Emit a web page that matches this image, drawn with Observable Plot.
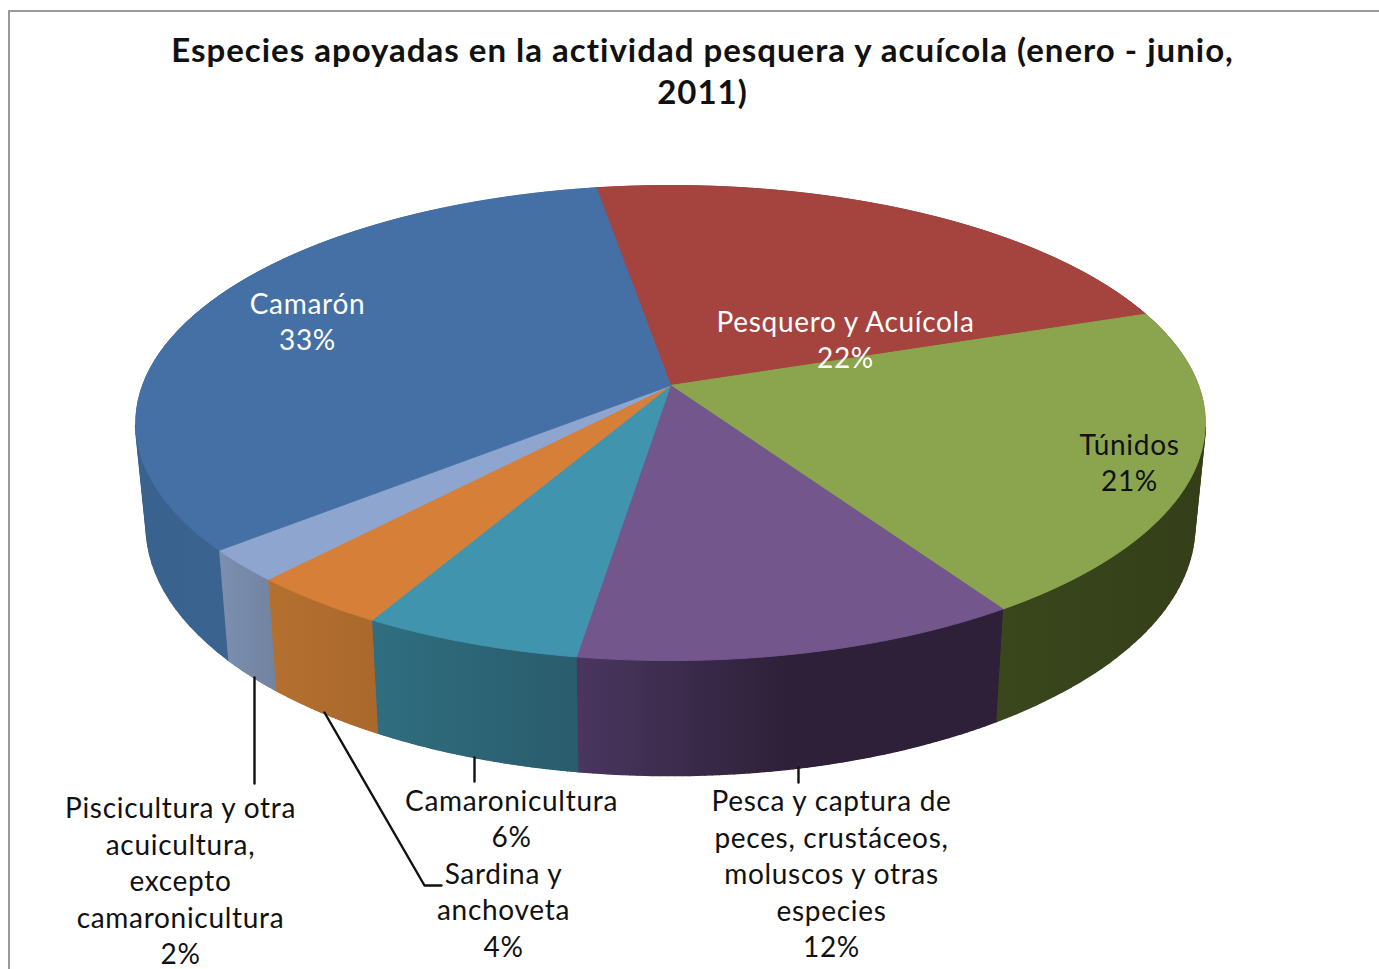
<!DOCTYPE html>
<html><head><meta charset="utf-8">
<script src="https://cdn.jsdelivr.net/npm/d3@7"></script>
<script src="https://cdn.jsdelivr.net/npm/@observablehq/plot@0.6"></script>
<style>html,body{margin:0;padding:0;background:#fff;overflow:hidden}svg{display:block}
.lab text{letter-spacing:.7px}.ttl text{letter-spacing:1px}</style>
</head><body><div id="chart"></div>
<script>
const titleLines = ["Especies apoyadas en la actividad pesquera y acuícola (enero - junio,", "2011)"];
const categories = ["Pesquero y Acuícola", "Túnidos", "Pesca y captura de\npeces, crustáceos,\nmoluscos y otras\nespecies", "Camaronicultura", "Sardina y\nanchoveta", "Piscicultura y otra\nacuicultura,\nexcepto\ncamaronicultura", "Camarón"];
const values = [22.35, 21.05, 11.6, 5.7, 3.65, 2.2, 33.45];
const startShare = -2.6;
const topColors = ["#a5433f", "#8aa54e", "#72568c", "#4094ad", "#d67f38", "#8ea5cf", "#4570a6"];
const sideStops = [
  ["#6e2c2a", "#6e2c2a"], ["#3a471c", "#343f19"], ["#4a3660", "#2d2038", "#2d2038"],
  ["#2f6e80", "#2a5c6c"], ["#b4702f", "#aa682c"], ["#7d8fb0", "#71839f"], ["#3a628f", "#3d6795"]
];
const labelX = [845, 1129, 831, 511, 503, 180, 307];
const labelY = [338, 461, 872, 817, 908, 879, 320];
const labelInk = ["#fff", "#111", "#111", "#111", "#111", "#111", "#fff"];
const leaders = [
  {id: "a", x: 254, y: 677}, {id: "a", x: 254, y: 783},
  {id: "b", x: 324, y: 712}, {id: "b", x: 424, y: 885}, {id: "b", x: 441, y: 885},
  {id: "c", x: 474, y: 757}, {id: "c", x: 474, y: 781},
  {id: "d", x: 798, y: 767}, {id: "d", x: 798, y: 782}
];

// projected disc: a circle seen in perspective, then a second one for the underside
const apex = {x: 670, y: 385}, radiusX = 528, radiusY = 231.6, persp = 0.158;
const rimTop = share => {
  const t = share / 100 * 2 * Math.PI, u = Math.sin(t), v = Math.cos(t), w = 1 + persp * v;
  return {x: apex.x + radiusX * u / w, y: apex.y - radiusY * v / w};
};
const rimBottom = share => {
  const p = rimTop(share);
  return {x: apex.x + 0.98 * (p.x - apex.x), y: 486 + 1.05 * (p.y - apex.y)};
};
let cum = startShare;
const slices = values.map((v, i) => {
  const a = cum, b = cum + v; cum = b;
  const shares = d3.range(0, 61).map(k => a + (b - a) * k / 60);
  const top = shares.map(rimTop), bot = shares.map(rimBottom);
  const quads = d3.range(0, 60).filter(k => top[k].y > apex.y + 40)
    .flatMap(k => [top[k], top[k + 1], bot[k + 1], bot[k]].map(p => ({...p, q: k})));
  return {i, face: [apex, ...top, apex], quads, side: [...top, ...[...bot].reverse()],
    x0: Math.min(...top.map(p => p.x), ...bot.map(p => p.x)),
    x1: Math.max(...top.map(p => p.x), ...bot.map(p => p.x))};
});
const labels = categories.map((c, i) => ({text: `${c}\n${Math.round(values[i])}%`, x: labelX[i], y: labelY[i], ink: labelInk[i]}));
const font = "Lato, 'Open Sans', sans-serif";

const chart = Plot.plot({
  width: 1379, height: 969, margin: 0,
  x: {domain: [0, 1379], range: [0, 1379], axis: null},
  y: {domain: [0, 969], range: [0, 969], axis: null},
  style: {background: "#fff"},
  marks: [
    Plot.ruleY([10.5], {x1: 8, x2: 1379, stroke: "#9a9a9a", strokeWidth: 2}),
    Plot.ruleX([8.5], {y1: 10, y2: 969, stroke: "#9a9a9a", strokeWidth: 2}),
    ...slices.map(s => Plot.line(s.quads, {x: "x", y: "y", z: "q", fill: `url(#side${s.i})`, stroke: `url(#side${s.i})`, strokeWidth: 2})),
    ...slices.map(s => Plot.line(s.side, {x: "x", y: "y", fill: `url(#side${s.i})`, stroke: `url(#side${s.i})`, strokeWidth: 0.6})),
    ...slices.map(s => Plot.line(s.face, {x: "x", y: "y", fill: topColors[s.i], stroke: topColors[s.i], strokeWidth: 1})),
    Plot.line(leaders, {x: "x", y: "y", z: "id", stroke: "#111", strokeWidth: 2.4}),
    Plot.text(labels, {x: "x", y: "y", text: "text", fill: "ink", fontSize: 28, lineHeight: 1.305, fontFamily: font, textAnchor: "middle", lineAnchor: "middle", className: "lab"}),
    Plot.text(titleLines, {x: [702, 702], y: [51, 93], text: d => d, fontSize: 33, fontWeight: 700, fontFamily: font, fill: "#111", textAnchor: "middle", lineAnchor: "middle", className: "ttl"})
  ]
});
const svgNS = "http://www.w3.org/2000/svg";
const defs = document.createElementNS(svgNS, "defs");
slices.forEach(s => {
  const g = document.createElementNS(svgNS, "linearGradient");
  g.setAttribute("id", `side${s.i}`);
  g.setAttribute("gradientUnits", "userSpaceOnUse");
  g.setAttribute("x1", s.x0); g.setAttribute("x2", s.x1); g.setAttribute("y1", 0); g.setAttribute("y2", 0);
  sideStops[s.i].forEach((c, k, arr) => {
    const st = document.createElementNS(svgNS, "stop");
    st.setAttribute("offset", k / (arr.length - 1)); st.setAttribute("stop-color", c);
    g.appendChild(st);
  });
  defs.appendChild(g);
});
chart.prepend(defs);
document.getElementById("chart").appendChild(chart);
</script></body></html>
